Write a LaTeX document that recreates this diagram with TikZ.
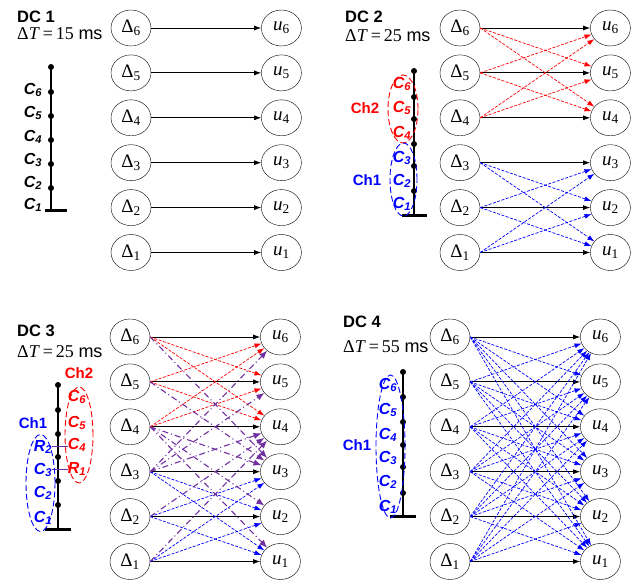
\documentclass[tikz,border=0pt]{standalone}
\usepackage{fontspec}
\setmainfont{Liberation Serif}
\setsansfont{Liberation Sans}
\usetikzlibrary{positioning,shapes.geometric,arrows.meta}

\definecolor{chred}{RGB}{255,0,0}
\definecolor{chblue}{RGB}{0,0,255}
\definecolor{chpurple}{RGB}{112,48,160}

\newcommand{\dlt}[1]{Δ\textsubscript{#1}}
\newcommand{\uu}[1]{\textit{u}\textsubscript{#1}}
\newcommand{\cc}[1]{C\textsubscript{#1}}
\newcommand{\rr}[1]{R\textsubscript{#1}}
\newcommand{\dT}[1]{Δ\textit{T}\,=\,#1 \textsf{ms}}

\begin{document}
\begin{tikzpicture}[
		  x=1pt, y=-1pt,
		  node distance=8.5pt and 110pt,
		  st/.style={draw,ellipse,minimum width=40pt,minimum height=36pt,inner sep=0pt,font=\fontsize{19}{21}\selectfont},
		  hd/.style={anchor=base west,inner sep=0pt,font=\sffamily\bfseries\fontsize{16.5}{18}\selectfont},
		  dt/.style={anchor=base west,inner sep=0pt,font=\fontsize{18}{20}\selectfont},
		  cl/.style={inner sep=0pt,font=\sffamily\bfseries\itshape\fontsize{16}{18}\selectfont},
		  ch/.style={inner sep=0pt,font=\sffamily\bfseries\fontsize{15}{17}\selectfont},
		  bdot/.style={circle,fill,inner sep=0pt,minimum size=6pt},
		  bus/.style={line width=1.2pt},
		  gnd/.style={line width=3pt},
		  fw/.style={-{Latex[length=7pt,width=5pt]},line width=0.8pt},
		  rd/.style={-{Latex[length=7pt,width=5pt]},chred,dash pattern=on 3pt off 1.5pt,line width=0.7pt},
		  bl/.style={-{Latex[length=7pt,width=5pt]},chblue,dash pattern=on 3pt off 1.5pt,line width=0.7pt},
		  pp/.style={-{Latex[length=8pt,width=6.5pt]},chpurple,dash pattern=on 6pt off 3pt on 1pt off 3pt,line width=1.1pt},
		  grp/.style={dash pattern=on 6pt off 3pt,line width=0.9pt}
		]
		\useasboundingbox (0,0) rectangle (633,585);

		% the four columns of estimators and inputs
		\foreach \k/\x/\y in {a/131/28,b/460/28,c/130/337,d/450/337} {
			\node[st] (D6\k) at (\x,\y) {\dlt6};
			\node[st,right=of D6\k] (u6\k) {\uu6};
			\foreach \i [evaluate=\i as \n using int(\i+1)] in {5,4,3,2,1} {
				\node[st,below=of D\n\k] (D\i\k) {\dlt\i};
				\node[st,right=of D\i\k] (u\i\k) {\uu\i};
			}
			\foreach \i in {1,...,6}
				\draw[fw] (D\i\k) -- (u\i\k);
		}

		% headers
		\node[hd] (h1) at (17,23) {DC 1};
		\node[dt] (t1) at (17,40) {\dT{15}};
		\node[hd] (h2) at (345,23) {DC 2};
		\node[dt] (t2) at (345,41.5) {\dT{25}};
		\node[hd] (h3) at (17,337) {DC 3};
		\node[dt] (t3) at (17,358) {\dT{25}};
		\node[hd] (h4) at (343,328) {DC 4};
		\node[dt] (t4) at (343,353) {\dT{55}};

		% DC 1 feeder
		\coordinate (ga) at (51,211);
		\foreach \y [count=\n] in {188,164,140,116,92,67}
			\node[bdot] (ba\n) at (51,\y) {};
		\draw[bus] (ba6.center) -- (ga);
		\draw[gnd] ([xshift=-6pt]ga) -- ([xshift=16pt]ga);
		\foreach \n/\y in {6/90,5/113,4/137,3/160,2/183,1/205}
			\node[cl] (ca\n) at (33,\y) {\cc\n};

		% DC 2 feeder
		\coordinate (gb) at (414,216);
		\foreach \y [count=\n] in {191,166,144,119,97,71}
			\node[bdot] (bb\n) at (414,\y) {};
		\draw[bus] (bb6.center) -- (gb);
		\draw[gnd] ([xshift=-12pt]gb) -- ([xshift=13pt]gb);
		\foreach \n/\y in {6/84,5/108,4/133}
			\node[cl,chred] (cb\n) at (402,\y) {\cc\n};
		\foreach \n/\y in {3/158,2/181,1/204}
			\node[cl,chblue] (cb\n) at (402,\y) {\cc\n};
		\draw[grp,chred] (403,109) ellipse [x radius=15pt,y radius=34pt];
		\draw[grp,chblue] (403.5,179.5) ellipse [x radius=13.5pt,y radius=36.5pt];
		\node[ch,chred] (chb2) at (365,108) {Ch2};
		\node[ch,chblue] (chb1) at (367,180) {Ch1};

		% DC 3 feeder
		\coordinate (gc) at (58,530);
		\foreach \y [count=\n] in {505,481,457,434,410,385}
			\node[bdot] (bc\n) at (58,\y) {};
		\draw[bus] (bc6.center) -- (gc);
		\draw[gnd] ([xshift=-13pt]gc) -- ([xshift=13pt]gc);
		\foreach \n/\y in {6/397,5/423,4/445}
			\node[cl,chred] (cc\n) at (77,\y) {\cc\n};
		\node[cl,chred] (rc1) at (77,469) {\rr1};
		\node[cl,chblue] (rc2) at (43,447) {\rr2};
		\foreach \n/\y in {3/470,2/493,1/518}
			\node[cl,chblue] (cc\n) at (43,\y) {\cc\n};
		\draw[chpurple,line width=1pt] (rc2.east) -- (rc2.east -| cc4.west);
		\draw[chpurple,line width=1pt] (cc3.east) -- (cc3.east -| rc1.west);
		\draw[grp,chred] (79,435) ellipse [x radius=14pt,y radius=48pt];
		\draw[grp,chblue] (40.5,483) ellipse [x radius=14.5pt,y radius=48.5pt];
		\node[ch,chred] (chc2) at (79,373) {Ch2};
		\node[ch,chblue] (chc1) at (33,423) {Ch1};

		% DC 4 feeder
		\coordinate (gd) at (403,517);
		\foreach \y [count=\n] in {493,467,445,422,397,372}
			\node[bdot] (bd\n) at (403,\y) {};
		\draw[bus] (bd6.center) -- (gd);
		\draw[gnd] ([xshift=-13pt]gd) -- ([xshift=13pt]gd);
		\foreach \n/\y in {6/385,5/410,4/435,3/458,2/482,1/507}
			\node[cl,chblue] (cd\n) at (388,\y) {\cc\n};
		\draw[grp,chblue] (390.5,446.5) ellipse [x radius=14.5pt,y radius=71.5pt];
		\node[ch,chblue] (chd1) at (357,445) {Ch1};

		% couplings inside the channels
		\foreach \k in {b,c} {
			\foreach \i/\j in {6/5,6/4,5/6,5/4,4/6,4/5}
				\draw[rd] (D\i\k.east) -- (u\j\k);
			\foreach \i/\j in {3/2,3/1,2/3,2/1,1/3,1/2}
				\draw[bl] (D\i\k.east) -- (u\j\k);
		}
		\foreach \i/\j in {4/1,4/2,4/3,1/4,2/4,3/4,3/5,3/6,5/3,6/3}
			\draw[pp] (D\i c.east) -- (u\j c);
		\foreach \i in {1,...,6}
			\foreach \j in {1,...,6} {
				\ifnum\i=\j\else
					\draw[bl] (D\i d.east) -- (u\j d);
				\fi
			}
		\end{tikzpicture}
\end{document}
